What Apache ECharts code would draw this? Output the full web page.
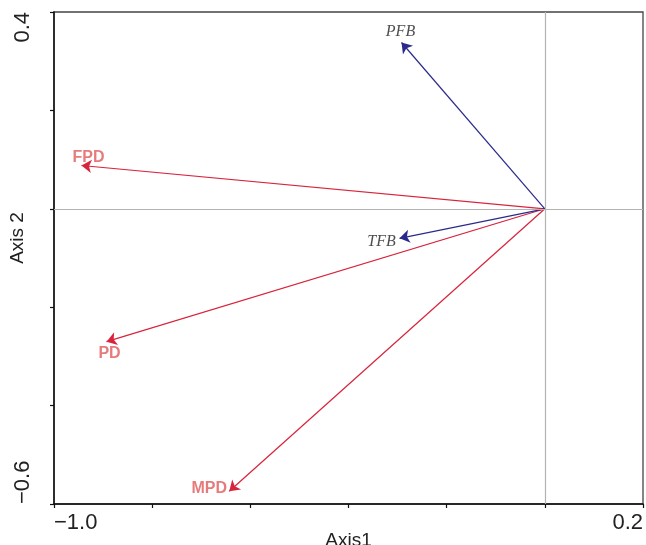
<!DOCTYPE html>
<html><head><meta charset="utf-8">
<script src="https://cdn.jsdelivr.net/npm/echarts@6/dist/echarts.min.js"></script>
<style>html,body{margin:0;padding:0;background:#fff}#c{width:646px;height:545px}</style>
</head><body><div id="c"></div>
<script>
// Data
const variables = ['FPD', 'PD', 'MPD', 'PFB', 'TFB'];
const axis1Values = [-0.944, -0.893, -0.643, -0.292, -0.296];
const axis2Values = [0.088, -0.270, -0.574, 0.338, -0.060];
const groups = ['response', 'response', 'response', 'explanatory', 'explanatory'];
const xTickLabels = { '-1': '\u22121.0', '0.2': '0.2' };
const yTickLabels = { '-0.6': '\u22120.6', '0.4': '0.4' };

// Styling (separate from data)
const labelOffsets = { FPD: [7, -8], PD: [3, 12], MPD: [-20, -3], PFB: [-1, -11], TFB: [-18, 3] };
const lineColors = { response: '#d8243c', explanatory: '#2a2a8c' };

const chart = echarts.init(document.getElementById('c'), null, { renderer: 'canvas' });

const lineData = variables.map((v, i) => ({
  coords: [[0, 0], [axis1Values[i], axis2Values[i]]],
  lineStyle: { color: lineColors[groups[i]], width: 1.2, opacity: 1 }
}));

const labelData = variables.map((v, i) => {
  const resp = groups[i] === 'response';
  const off = labelOffsets[v];
  return {
    name: v,
    value: [axis1Values[i], axis2Values[i]],
    label: {
      show: true, position: [1 + off[0], 1 + off[1]], align: 'center', verticalAlign: 'middle', formatter: v,
      fontFamily: resp ? 'Liberation Sans, Arial, sans-serif' : 'Liberation Serif, Times New Roman, serif',
      fontWeight: resp ? 'bold' : 'normal',
      fontStyle: resp ? 'normal' : 'italic',
      fontSize: 16,
      color: resp ? '#e05a5a' : '#222'
    }
  };
});

const fmtNum = v => String(Math.round(v * 10) / 10);

chart.setOption({
  animation: false,
  backgroundColor: '#fff',
  grid: { left: 54, top: 12, width: 589, height: 492, containLabel: false, outerBoundsMode: 'none',
    show: true, borderColor: '#444', borderWidth: 1.3, backgroundColor: 'transparent' },
  xAxis: {
    type: 'value', min: -1, max: 0.2, interval: 0.2,
    name: 'Axis1', nameLocation: 'middle', nameGap: 27, nameMoveOverlap: false,
    nameTextStyle: { fontFamily: 'Liberation Sans, Arial, sans-serif', fontSize: 19, color: '#222' },
    axisLine: { onZero: false, lineStyle: { color: '#111', width: 1.5 } },
    axisTick: { show: true, length: 4, lineStyle: { color: '#111', width: 1.2 } },
    splitLine: { show: false },
    axisLabel: {
      margin: 8, fontFamily: 'Liberation Sans, Arial, sans-serif', fontSize: 22, color: '#222',
      showMinLabel: true, showMaxLabel: true,
      alignMinLabel: 'left', alignMaxLabel: 'right',
      formatter: v => xTickLabels[fmtNum(v)] || ''
    }
  },
  yAxis: {
    type: 'value', min: -0.6, max: 0.4, interval: 0.2,
    name: 'Axis 2', nameLocation: 'middle', nameGap: 27, nameRotate: 90, nameMoveOverlap: false,
    nameTextStyle: { fontFamily: 'Liberation Sans, Arial, sans-serif', fontSize: 19, color: '#222', padding: [0, 0, 0, 40] },
    axisLine: { onZero: false, lineStyle: { color: '#111', width: 1.5 } },
    axisTick: { show: true, length: 4, lineStyle: { color: '#111', width: 1.2 } },
    splitLine: { show: false },
    axisLabel: {
      rotate: 90, margin: 20, fontFamily: 'Liberation Sans, Arial, sans-serif', fontSize: 22, color: '#222',
      showMinLabel: true, showMaxLabel: true,
      alignMinLabel: 'left', alignMaxLabel: 'right',
      formatter: v => yTickLabels[fmtNum(v)] || ''
    }
  },
  series: [
    {
      type: 'scatter', symbolSize: 0, data: [],
      silent: true,
      markLine: {
        silent: true, symbol: 'none', label: { show: false },
        lineStyle: { color: '#b3b3b3', type: 'solid', width: 1.2 },
        data: [{ xAxis: 0 }, { yAxis: 0 }]
      }
    },
    {
      type: 'lines', coordinateSystem: 'cartesian2d', silent: true,
      symbol: ['none', 'arrow'], symbolSize: 10,
      data: lineData
    },
    {
      type: 'scatter', symbolSize: 2, itemStyle: { color: 'rgba(0,0,0,0)' }, silent: true,
      labelLayout: { hideOverlap: false },
      data: labelData
    }
  ]
});
</script></body></html>
